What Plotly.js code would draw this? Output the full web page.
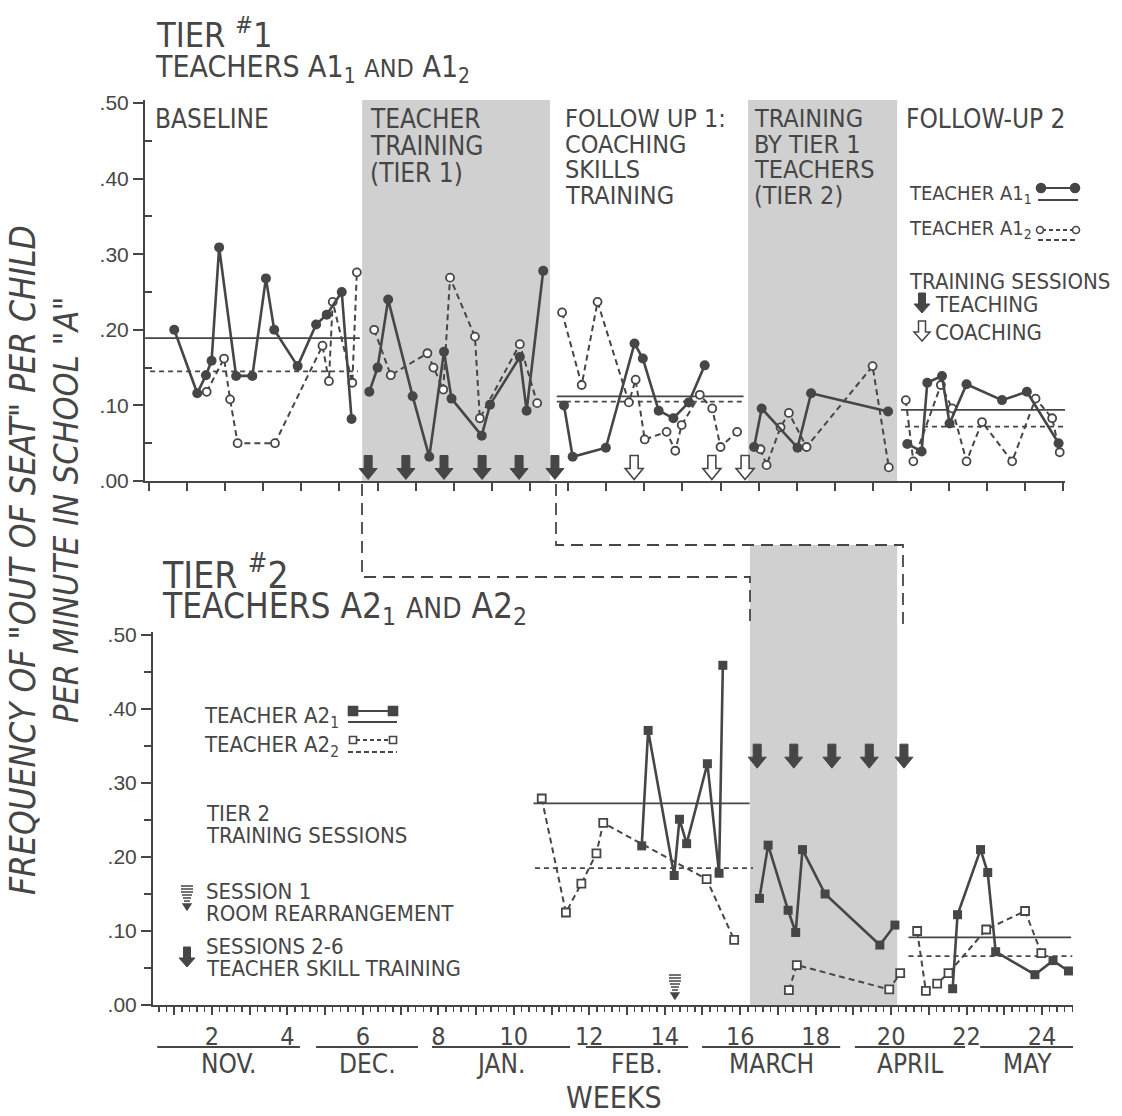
<!DOCTYPE html>
<html><head><meta charset="utf-8">
<script src="https://cdn.plot.ly/plotly-3.0.1.min.js"></script>
<style>html,body{margin:0;padding:0;background:#fff}</style>
</head><body><div id="chart" style="width:1122px;height:1116px"></div>
<script>
// ---------------- DATA ----------------
// Tier 1 (weeks, frequency); null separates phases
const weeksA11 = [1.00,1.61,1.84,1.99,2.19,2.64,3.07,3.43,3.65,4.27,4.76,5.04,5.44,5.70, null,
  6.17,6.39,6.67,7.32,7.76,8.15,8.35,9.15,9.37,10.16,10.34,10.78, null,
  11.33,11.56,12.44,13.20,13.42,13.84,14.23,14.64,15.06, null,
  16.37,16.57,17.52,17.88,19.92, null,
  20.43,20.81,20.96,21.35,21.55,22.00,22.94,23.60,24.44];
const valsA11 = [0.200,0.116,0.140,0.159,0.309,0.139,0.139,0.268,0.200,0.152,0.207,0.220,0.250,0.082, null,
  0.118,0.150,0.240,0.112,0.032,0.171,0.109,0.060,0.101,0.164,0.093,0.278, null,
  0.100,0.032,0.044,0.182,0.162,0.093,0.083,0.104,0.153, null,
  0.045,0.096,0.044,0.116,0.092, null,
  0.049,0.039,0.130,0.139,0.076,0.128,0.107,0.118,0.050];
const weeksA12 = [1.86,2.32,2.48,2.68,3.67,4.93,5.10,5.20,5.72,5.84, null,
  6.30,6.74,7.71,7.87,8.13,8.31,8.97,9.10,10.16,10.62, null,
  11.28,11.80,12.22,13.05,13.23,13.47,14.05,14.28,14.45,14.93,15.26,15.48,15.92, null,
  16.54,16.70,17.07,17.29,17.76,19.51,19.94, null,
  20.39,20.59,21.32,21.62,22.00,22.41,23.21,23.83,24.27,24.47];
const valsA12 = [0.118,0.162,0.108,0.050,0.050,0.179,0.132,0.237,0.130,0.276, null,
  0.200,0.140,0.169,0.150,0.121,0.269,0.191,0.083,0.181,0.103, null,
  0.223,0.127,0.237,0.104,0.134,0.055,0.065,0.040,0.074,0.114,0.096,0.045,0.065, null,
  0.042,0.021,0.071,0.090,0.045,0.152,0.018, null,
  0.107,0.026,0.127,0.096,0.026,0.078,0.026,0.109,0.083,0.038];
// Tier 1 phase means
const meanA11Start = [0.23, 11.14, 20.26];
const meanA11End   = [5.92, 16.09, 24.64];
const meanA11      = [0.189, 0.112, 0.094];
const meanA12Start = [0.36, 11.14, 20.37];
const meanA12End   = [5.87, 16.09, 24.64];
const meanA12      = [0.145, 0.105, 0.072];
// Tier 1 training sessions
const teachingWeeksT1 = [6.14, 7.14, 8.15, 9.16, 10.14, 11.09];
const coachingWeeksT1 = [13.19, 15.25, 16.13];
// Tier 1 shaded phases
const shadeT1Start = [5.98, 16.21];
const shadeT1End   = [10.96, 20.16];

// Tier 2
const weeksA21 = [13.39,13.56,14.25,14.39,14.58,15.13,15.44,15.54, null,
  16.51,16.74,17.27,17.47,17.65,18.25,19.70,20.10, null,
  21.63,21.76,22.37,22.56,22.77,23.81,24.29,24.70];
const valsA21 = [0.215,0.371,0.175,0.251,0.218,0.326,0.178,0.459, null,
  0.144,0.216,0.128,0.098,0.210,0.150,0.081,0.108, null,
  0.022,0.122,0.210,0.179,0.072,0.041,0.060,0.046];
const weeksA22 = [10.74,11.38,11.79,12.19,12.37,15.11,15.84, null,
  17.29,17.50,19.95,20.24, null,
  20.69,20.92,21.22,21.52,22.52,23.55,23.98];
const valsA22 = [0.279,0.125,0.164,0.205,0.246,0.170,0.088, null,
  0.020,0.054,0.021,0.043, null,
  0.100,0.019,0.029,0.043,0.102,0.127,0.070];
const meanA21Start = [10.52, 20.46];
const meanA21End   = [16.25, 24.77];
const meanA21      = [0.2725, 0.0915];
const meanA22Start = [10.56, 20.46];
const meanA22End   = [16.34, 24.80];
const meanA22      = [0.185, 0.066];
const session1Week = [14.27];
const sessionsWeeksT2 = [16.45, 17.42, 18.43, 19.42, 20.34];
const shadeT2Start = [16.26];
const shadeT2End   = [20.16];

// Tick labels / categories
const yTickVals = [0, 0.1, 0.2, 0.3, 0.4, 0.5];
const yTickLabels = ['.00', '.10', '.20', '.30', '.40', '.50'];
const yMinorVals = [0.05, 0.15, 0.25, 0.35, 0.45];
const weekTicks = [1,2,3,4,5,6,7,8,9,10,11,12,13,14,15,16,17,18,19,20,21,22,23,24];
const weekTickLabels = ['','2','','4','','6','','8','','10','','12','','14','','16','','18','','20','','22','','24'];
const months = ['NOV.', 'DEC.', 'JAN.', 'FEB.', 'MARCH', 'APRIL', 'MAY'];
const monthStart = [0.55, 4.76, 7.83, 11.91, 14.99, 19.04, 22.36];
const monthEnd   = [4.33, 7.46, 11.49, 14.62, 18.65, 21.96, 24.88];

// ---------------- STYLE / LAYOUT ----------------
const W = 1122, H = 1116;
const X = p => p / W, Y = p => 1 - p / H;
const INK = '#464646';
const SHADE = '#d0d0d0';
const FN = '"Liberation Sans Narrow", "DejaVu Sans Condensed", "Liberation Sans", sans-serif';
const FNUM = '"Liberation Sans", "DejaVu Sans", sans-serif';

const traces = [];
function meanTraces(starts, ends, vals, dash, xa, ya) {
  for (let i = 0; i < vals.length; i++) {
    traces.push({x: [starts[i], ends[i]], y: [vals[i], vals[i]], xaxis: xa, yaxis: ya,
      mode: 'lines', line: {color: INK, width: 1.8, dash: dash}, hoverinfo: 'skip', showlegend: false});
  }
}
meanTraces(meanA11Start, meanA11End, meanA11, 'solid', 'x', 'y');
meanTraces(meanA12Start, meanA12End, meanA12, '5px,4px', 'x', 'y');
meanTraces(meanA21Start, meanA21End, meanA21, 'solid', 'x2', 'y2');
meanTraces(meanA22Start, meanA22End, meanA22, '5px,4px', 'x2', 'y2');

traces.push({x: weeksA12, y: valsA12, xaxis: 'x', yaxis: 'y', mode: 'lines+markers', connectgaps: false,
  line: {color: INK, width: 2, dash: '6px,4px'},
  marker: {symbol: 'circle', size: 8, color: '#fff', line: {color: INK, width: 1.8}}, showlegend: false});
traces.push({x: weeksA11, y: valsA11, xaxis: 'x', yaxis: 'y', mode: 'lines+markers', connectgaps: false,
  line: {color: INK, width: 2.6},
  marker: {symbol: 'circle', size: 10, color: INK}, showlegend: false});
traces.push({x: weeksA22, y: valsA22, xaxis: 'x2', yaxis: 'y2', mode: 'lines+markers', connectgaps: false,
  line: {color: INK, width: 2, dash: '6px,4px'},
  marker: {symbol: 'square', size: 8, color: '#fff', line: {color: INK, width: 1.8}}, showlegend: false});
traces.push({x: weeksA21, y: valsA21, xaxis: 'x2', yaxis: 'y2', mode: 'lines+markers', connectgaps: false,
  line: {color: INK, width: 2.6},
  marker: {symbol: 'square', size: 9, color: INK}, showlegend: false});

// shapes
const shapes = [];
for (let i = 0; i < shadeT1Start.length; i++) {
  shapes.push({type: 'rect', xref: 'x', yref: 'y', x0: shadeT1Start[i], x1: shadeT1End[i], y0: 0, y1: 0.504,
    fillcolor: SHADE, line: {width: 0}, layer: 'below'});
}
for (let i = 0; i < shadeT2Start.length; i++) {
  shapes.push({type: 'rect', xref: 'x2', yref: 'paper', x0: shadeT2Start[i], x1: shadeT2End[i], y0: Y(1005), y1: Y(545),
    fillcolor: SHADE, line: {width: 0}, layer: 'below'});
}
// white label boxes in shaded areas
shapes.push({type: 'rect', xref: 'paper', yref: 'paper', x0: X(365), x1: X(489), y0: Y(192), y1: Y(103), fillcolor: '#fff', line: {width: 0}, layer: 'below'});
shapes.push({type: 'rect', xref: 'paper', yref: 'paper', x0: X(751), x1: X(871), y0: Y(208), y1: Y(101), fillcolor: '#fff', line: {width: 0}, layer: 'below'});
// connectors between tiers
function pth(pts) { return 'M' + pts.map(p => X(p[0]) + ',' + Y(p[1])).join(' L'); }
shapes.push({type: 'path', xref: 'paper', yref: 'paper', path: pth([[362, 484], [362, 577], [750, 577], [750, 628]]),
  line: {color: INK, width: 1.8, dash: '12px,7px'}});
shapes.push({type: 'path', xref: 'paper', yref: 'paper', path: pth([[556, 484], [556, 545], [903, 545], [903, 628]]),
  line: {color: INK, width: 1.8, dash: '12px,7px'}});
// month underlines
for (let i = 0; i < months.length; i++) {
  shapes.push({type: 'line', xref: 'x2', yref: 'paper', x0: monthStart[i], x1: monthEnd[i], y0: Y(1047), y1: Y(1047),
    line: {color: INK, width: 2}});
}
// block arrows (pixel-sized glyphs anchored at data positions)
const ARROW_BIG = 'M0,0 L-9,11 L-4,11 L-4,24 L4,24 L4,11 L9,11 Z';
const ARROW_SMALL = 'M0,0 L-8,9 L-3.5,9 L-3.5,20 L3.5,20 L3.5,9 L8,9 Z';
const ICON_S1 = 'M-6,30 H6 M-6,27 H6 M-6,24 H6 M-5,21 H5 M-4,18 H4 M-3,15 H3 M-4,12 L4,12 L0,6 Z';
function glyphAt(path, xref, yref, xa, ya, fill, lw) {
  shapes.push({type: 'path', xref: xref, yref: yref, xsizemode: 'pixel', ysizemode: 'pixel',
    xanchor: xa, yanchor: ya, path: path, fillcolor: fill, line: {color: INK, width: lw}});
}
const ARROW_T1_TIP = 0.002, ARROW_T2_TIP = 0.32, S1_BASE = 0.0;
teachingWeeksT1.forEach(w => glyphAt(ARROW_BIG, 'x', 'y', w, ARROW_T1_TIP, INK, 1));
coachingWeeksT1.forEach(w => glyphAt(ARROW_BIG, 'x', 'y', w, ARROW_T1_TIP, '#fff', 1.6));
sessionsWeeksT2.forEach(w => glyphAt(ARROW_BIG, 'x2', 'y2', w, ARROW_T2_TIP, INK, 1));
session1Week.forEach(w => glyphAt(ICON_S1, 'x2', 'y2', w, S1_BASE, INK, 1.3));
// legend glyphs
glyphAt(ARROW_SMALL, 'paper', 'paper', X(922), Y(313), INK, 1);
glyphAt(ARROW_SMALL, 'paper', 'paper', X(922), Y(341), '#fff', 1.5);
glyphAt(ICON_S1, 'paper', 'paper', X(187), Y(916), INK, 1.3);
glyphAt(ARROW_SMALL, 'paper', 'paper', X(187), Y(967), INK, 1);

function hline(x0, x1, y, dash) {
  shapes.push({type: 'line', xref: 'paper', yref: 'paper', x0: X(x0), x1: X(x1), y0: Y(y), y1: Y(y), line: {color: INK, width: 2, dash: dash || 'solid'}});
}
function dot(type, x, y, r, fill) {
  shapes.push({type: type, xref: 'paper', yref: 'paper', xsizemode: 'pixel', ysizemode: 'pixel',
    xanchor: X(x), yanchor: Y(y), x0: -r, x1: r, y0: -r, y1: r,
    fillcolor: fill, line: {color: INK, width: 1.6}});
}
hline(1041, 1075, 188); hline(1038, 1078, 200);
dot('circle', 1041, 188, 4.5, INK); dot('circle', 1075, 188, 4.5, INK);
hline(1042, 1074, 230, '4px,3px'); hline(1038, 1078, 240, '5px,3px');
dot('circle', 1040, 230, 3.5, '#fff'); dot('circle', 1076, 230, 3.5, '#fff');
hline(353, 393, 711); hline(348, 397, 722);
dot('rect', 353, 711, 4.5, INK); dot('rect', 393, 711, 4.5, INK);
hline(356, 390, 740, '4px,3px'); hline(348, 397, 752, '5px,3px');
dot('rect', 353, 740, 3.5, '#fff'); dot('rect', 393, 740, 3.5, '#fff');

// annotations
const ann = [];
function txt(t, x, y, size, opts) {
  ann.push(Object.assign({text: t, x: X(x), y: Y(y), xref: 'paper', yref: 'paper', xanchor: 'left', yanchor: 'middle',
    showarrow: false, font: {family: FN, size: size, color: INK}}, opts || {}));
}
function lines(arr, x, y0, step, size) { arr.forEach((t, i) => txt(t, x, y0 + i * step, size)); }

txt('TIER <sup>#</sup>1', 154, 33, 34);
txt('TEACHERS A1<sub>1</sub> <span style="font-size:25px">AND</span> A1<sub>2</sub>', 153, 68, 30);
txt('TIER <sup>#</sup>2', 160, 572, 37);
txt('TEACHERS A2<sub>1</sub> <span style="font-size:28px">AND</span> A2<sub>2</sub>', 160, 608, 35);

txt('BASELINE', 153, 119, 26);
lines(['TEACHER', 'TRAINING', '(TIER 1)'], 368, 119, 27, 26);
lines(['FOLLOW UP 1:', 'COACHING', 'SKILLS', 'TRAINING'], 563, 119, 25.5, 25);
lines(['TRAINING', 'BY TIER 1', 'TEACHERS', '(TIER 2)'], 752, 119, 25.5, 25);
txt('FOLLOW-UP 2', 904, 119, 26);

txt('TEACHER A1<sub>1</sub>', 907, 194, 20);
txt('TEACHER A1<sub>2</sub>', 907, 229, 20);
txt('TRAINING SESSIONS', 907, 281, 22);
txt('TEACHING', 933, 304, 22);
txt('COACHING', 933, 333, 22);

txt('TEACHER A2<sub>1</sub>', 202, 717, 22);
txt('TEACHER A2<sub>2</sub>', 202, 746, 22);
lines(['TIER 2', 'TRAINING SESSIONS'], 204, 813, 22, 22);
lines(['SESSION 1', 'ROOM REARRANGEMENT'], 204, 891, 22, 22);
lines(['SESSIONS 2-6', 'TEACHER SKILL TRAINING'], 204, 946, 22, 22);

// y title
txt('<i>FREQUENCY OF "OUT OF SEAT" PER CHILD</i>', 23, 560, 35, {xanchor: 'center', textangle: -90});
txt('<i>PER MINUTE IN SCHOOL "A"</i>', 66, 510, 34, {xanchor: 'center', textangle: -90});
// months
for (let i = 0; i < months.length; i++) {
  ann.push({text: months[i], x: (monthStart[i] + monthEnd[i]) / 2, y: Y(1064), xref: 'x2', yref: 'paper',
    xanchor: 'center', yanchor: 'middle', showarrow: false, font: {family: FN, size: 26, color: INK}});
}
txt('WEEKS', 614, 1097, 30, {xanchor: 'center'});

const axBase = {showgrid: false, zeroline: false, showline: true, linecolor: INK, linewidth: 2,
  tickcolor: INK, tickwidth: 2};
const layout = {
  width: W, height: H, margin: {l: 0, r: 0, t: 0, b: 0},
  paper_bgcolor: '#fff', plot_bgcolor: 'rgba(0,0,0,0)', showlegend: false,
  xaxis: Object.assign({}, axBase, {domain: [X(145), X(1065)], range: [0.225, 24.61], anchor: 'y',
    ticks: 'outside', tick0: 0.33, dtick: 1.01, ticklen: 8, showticklabels: false}),
  yaxis: Object.assign({}, axBase, {domain: [Y(481), Y(100)], range: [0, 0.504], anchor: 'x',
    tickmode: 'array', tickvals: yTickVals, ticktext: yTickLabels, ticks: 'outside', ticklen: 10,
    tickfont: {family: FNUM, size: 21, color: INK},
    minor: {tickmode: 'array', tickvals: yMinorVals, ticks: 'inside', ticklen: 7, tickcolor: INK, tickwidth: 2}}),
  xaxis2: Object.assign({}, axBase, {domain: [X(153), X(1073)], range: [0.437, 24.82], anchor: 'y2',
    tickmode: 'array', tickvals: weekTicks, ticktext: weekTickLabels, ticks: 'outside', ticklen: 8,
    tickfont: {family: FN, size: 25, color: INK},
    minor: {tickmode: 'linear', tick0: 0, dtick: 0.2, ticks: 'outside', ticklen: 5, tickcolor: INK, tickwidth: 1.5}}),
  yaxis2: Object.assign({}, axBase, {domain: [Y(1005), Y(632)], range: [0, 0.504], anchor: 'x2',
    tickmode: 'array', tickvals: yTickVals, ticktext: yTickLabels, ticks: 'outside', ticklen: 10,
    tickfont: {family: FNUM, size: 21, color: INK},
    minor: {tickmode: 'array', tickvals: yMinorVals, ticks: 'outside', ticklen: 7, tickcolor: INK, tickwidth: 2}}),
  shapes: shapes, annotations: ann
};
Plotly.newPlot('chart', traces, layout, {displayModeBar: false, staticPlot: true});
</script></body></html>
